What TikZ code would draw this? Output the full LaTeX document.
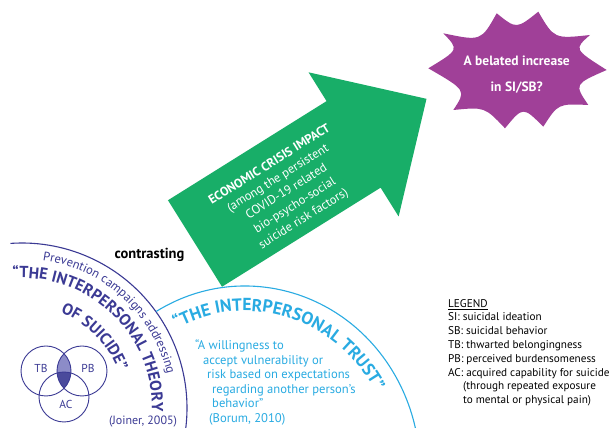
\documentclass[tikz,border=0pt]{standalone}
\usepackage{fontspec}
\setmainfont{PT Sans}
\usetikzlibrary{decorations.text}

\definecolor{dkblue}{RGB}{59,58,148}
\definecolor{venlight}{RGB}{140,140,200}
\definecolor{vendark}{RGB}{74,74,156}
\definecolor{cyanb}{RGB}{41,171,226}
\definecolor{arrowgreen}{RGB}{24,174,104}
\definecolor{burst}{RGB}{160,64,152}

\tikzset{
  legendline/.style={anchor=base west, inner sep=0pt, font=\fontsize{11.2}{12}\selectfont},
  trustline/.style={anchor=base west, inner sep=0pt, text=cyanb, font=\fontsize{12.6}{14}\selectfont},
  venncircle/.style={draw=dkblue, line width=0.9pt, circle, minimum size=50pt, inner sep=0pt},
  vennlabel/.style={text=dkblue, inner sep=0pt, font=\fontsize{11.5}{12}\selectfont},
  arcline/.style={line width=1.1pt},
  curvedtext/.style={decorate, decoration={text along path, text align=left, text color=#1}},
}

\begin{document}
\begin{tikzpicture}[x=1pt,y=1pt]
\useasboundingbox (0,0) rectangle (614,428);
\fill[white] (0,0) rectangle (614,428);
\begin{scope}
\clip (0,0) rectangle (614,428);

% ---- interpersonal theory of suicide: arc and curved headings
\draw[arcline, dkblue] ([shift={(22,20)}]94:165) arc[start angle=94, end angle=-12, radius=165];
\begingroup\fontsize{12.5}{12.5}\selectfont
\path[curvedtext=dkblue, decoration={text={Prevention campaigns addressing}}]
  ([shift={(22,20)}]82:149) arc[start angle=82, end angle=-40, radius=149];
\endgroup
\begingroup\bfseries\fontsize{16}{16}\selectfont
\path[curvedtext=dkblue, decoration={text={“THE INTERPERSONAL THEORY}}]
  ([shift={(22,20)}]94:130) arc[start angle=94, end angle=-40, radius=130];
\path[curvedtext=dkblue, decoration={text={OF SUICIDE”}}]
  ([shift={(22,20)}]68:103) arc[start angle=68, end angle=-40, radius=103];
\endgroup

% ---- interpersonal trust: arc and curved heading
\draw[arcline, cyanb] ([shift={(245,-42)}]120.5:175 and 184) arc[start angle=120.5, end angle=-5, x radius=175, y radius=184];
\begingroup\bfseries\fontsize{17.5}{17.5}\selectfont
\path[curvedtext=cyanb, decoration={text={“THE INTERPERSONAL TRUST”}}]
  ([shift={(245,-42)}]117:150 and 159) arc[start angle=117, end angle=-10, x radius=150, y radius=159];
\endgroup

% ---- Venn diagram TB / PB / AC
\begin{scope}
  \clip (46,57) circle[radius=25];
  \fill[venlight] (82,57) circle[radius=25];
\end{scope}
\begin{scope}
  \clip (46,57) circle[radius=25];
  \clip (82,57) circle[radius=25];
  \fill[vendark] (64,31) circle[radius=25];
\end{scope}
\node[venncircle] (tb) at (46,57) {};
\node[venncircle] (pb) at (82,57) {};
\node[venncircle] (ac) at (64,31) {};
\node[vennlabel] (tblabel) at (41,60) {TB};
\node[vennlabel] (pblabel) at (88,60) {PB};
\node[vennlabel] (aclabel) at (66,24) {AC};
\node[anchor=base, inner sep=0pt, text=dkblue, font=\fontsize{12}{12}\selectfont] (joiner) at (143,3) {(Joiner, 2005)};

% ---- trust definition
\node[trustline] (q1) at (195,78) {“A willingness to};
\node[trustline] (q2) at (203,63.6) {accept vulnerability or};
\node[trustline] (q3) at (207,49.2) {risk based on expectations};
\node[trustline] (q4) at (212,34.8) {regarding another person’s};
\node[trustline] (q5) at (212,20.4) {behavior”};
\node[trustline] (borum) at (209,5) {(Borum, 2010)};

\node[inner sep=0pt, font=\bfseries\fontsize{14.5}{15}\selectfont] (contrast) at (149.5,173) {contrasting};

% ---- green arrow
\begin{scope}[shift={(195,184.5)}, rotate=32]
  \fill[arrowgreen] (0,51) -- (187,51) -- (187,85) -- (273,0) -- (187,-85) -- (187,-51) -- (0,-51) -- cycle;
  \node[rotate=32, align=center, text=white, inner sep=0pt, font=\fontsize{12.5}{16}\selectfont] (impact) at (105,-5)
    {\textbf{ECONOMIC CRISIS IMPACT}\\(among the persistent\\COVID-19 related\\bio-psycho-social\\suicide risk factors)};
\end{scope}

% ---- starburst
\fill[burst] (428.3,359.7) .. controls (459.1,378.3) .. (443.3,394.7)
  .. controls (481.1,386.8) .. (496.7,414.7)
  .. controls (516.4,398.8) .. (538.3,416.3)
  .. controls (554.2,389.1) .. (590,393)
  .. controls (573.9,378.8) .. (606.7,358)
  .. controls (574.2,343.8) .. (588.3,323)
  .. controls (558.1,324.4) .. (543.3,301.3)
  .. controls (523,321.6) .. (505,299.7)
  .. controls (484.7,321.1) .. (453.3,318)
  .. controls (466.4,337.7) .. (428.3,359.7) -- cycle;
\node[align=center, text=white, inner sep=0pt, font=\bfseries\fontsize{13.5}{25.6}\selectfont] (belated) at (516.7,353.5)
  {A belated increase\\in SI/SB?};

% ---- legend
\node[legendline] (lg0) at (448,120) {\underline{LEGEND}};
\node[legendline] (lg1) at (448,107) {SI: suicidal ideation};
\node[legendline] (lg2) at (448,93.2) {SB: suicidal behavior};
\node[legendline] (lg3) at (448,79.4) {TB: thwarted belongingness};
\node[legendline] (lg4) at (448,65.6) {PB: perceived burdensomeness};
\node[legendline] (lg5) at (448,51.8) {AC: acquired capability for suicide};
\node[legendline] (lg6) at (463,38) {(through repeated exposure};
\node[legendline] (lg7) at (463,24.2) {to mental or physical pain)};
\end{scope}
\end{tikzpicture}
\end{document}
